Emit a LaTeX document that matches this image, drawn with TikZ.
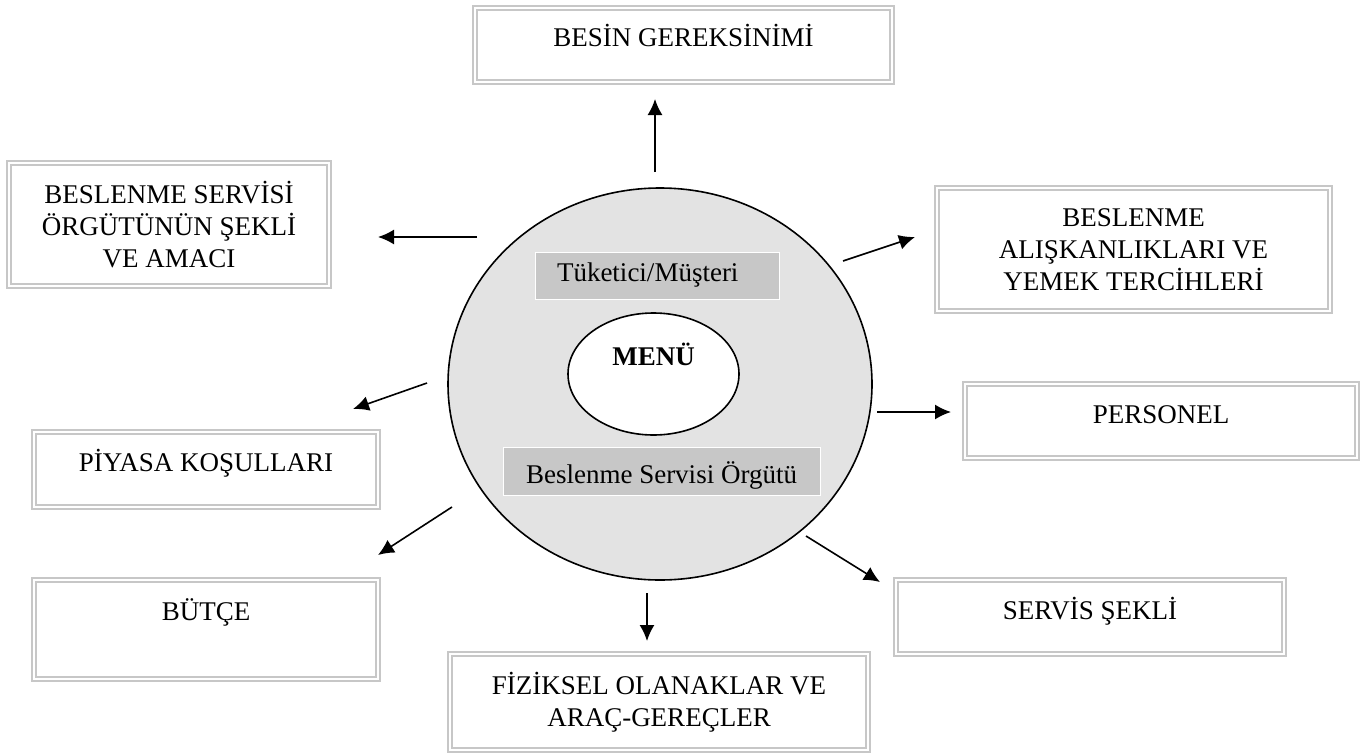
\documentclass[tikz,border=0pt]{standalone}
\usepackage{fontspec}
\setmainfont{Liberation Serif}
\usepackage{tikz}
\usetikzlibrary{shapes,arrows.meta}
\tikzset{rec/.style={rectangle,draw=black!22,double=white,double distance=1.1pt,line width=0.9pt,inner sep=0pt,align=center,font=\fontsize{13.5}{16}\selectfont}}
\tikzset{ell/.style={ellipse,draw,line width=0.8pt,inner sep=0pt}}
\tikzset{lab/.style={rectangle,draw=white,fill=black!22,line width=0.5pt,inner sep=0pt,font=\fontsize{13.5}{16}\selectfont}}

\begin{document}
\begin{tikzpicture}[x=0.5pt,y=-0.5pt,>={Latex[length=8pt,width=7.5pt]}]
    \useasboundingbox (0,0) rectangle (1365,755);
    \node[ell,fill=black!11,minimum width=212pt,minimum height=196pt] (c) at (660,384) {};
    \node[lab,minimum width=122pt,minimum height=23.5pt,text width=100pt,align=left] (k) at (657,275.5) {Tüketici/Müşteri};
    \node[ell,fill=white,minimum width=85.5pt,minimum height=61pt,text height=11pt,text depth=19.1pt,font=\bfseries\fontsize{13.5}{16}\selectfont] (m) at (653.5,374) {MENÜ};
    \node[lab,minimum width=158.5pt,minimum height=24pt,text height=15pt,text depth=2.1pt] (o) at (661.5,471) {Beslenme Servisi Örgütü};

    \node[rec,minimum width=208.5pt,minimum height=37pt,text height=10pt,text depth=8.1pt] (besin) at (683.5,45) {BESİN GEREKSİNİMİ};
    \node[rec,minimum width=160pt,minimum height=61.5pt] (org) at (169,224.5) {BESLENME SERVİSİ\\ÖRGÜTÜNÜN ŞEKLİ\\VE AMACI};
    \node[rec,minimum width=196.5pt,minimum height=61.5pt] (alis) at (1133.5,249.5) {BESLENME\\ALIŞKANLIKLARI VE\\YEMEK TERCİHLERİ};
    \node[rec,minimum width=196pt,minimum height=37pt,text height=10pt,text depth=7.1pt] (pers) at (1161,421) {PERSONEL};
    \node[rec,minimum width=172pt,minimum height=37.5pt,text height=10pt,text depth=7.6pt] (piy) at (206,469.5) {PİYASA KOŞULLARI};
    \node[rec,minimum width=172pt,minimum height=49.5pt,text height=10pt,text depth=18.6pt] (but) at (206,629.5) {BÜTÇE};
    \node[rec,minimum width=209pt,minimum height=48pt] (fiz) at (659,702) {FİZİKSEL OLANAKLAR VE\\ARAÇ-GEREÇLER};
    \node[rec,minimum width=194pt,minimum height=37pt,text height=10pt,text depth=7.1pt] (serv) at (1090,617) {SERVİS ŞEKLİ};

    \coordinate (s1) at (655,172); \coordinate (e1) at (655,99);
    \coordinate (s2) at (477,237); \coordinate (e2) at (378,237);
    \coordinate (s3) at (843,261); \coordinate (e3) at (915,237);
    \coordinate (s4) at (877,412); \coordinate (e4) at (951,412);
    \coordinate (s5) at (427,383); \coordinate (e5) at (353,409);
    \coordinate (s6) at (452,507); \coordinate (e6) at (378,555);
    \coordinate (s7) at (647,593); \coordinate (e7) at (647,641);
    \coordinate (s8) at (806,536); \coordinate (e8) at (880,582);

    \draw [->,thick] (s1) to (e1);
    \draw [->,thick] (s2) to (e2);
    \draw [->,thick] (s3) to (e3);
    \draw [->,thick] (s4) to (e4);
    \draw [->,thick] (s5) to (e5);
    \draw [->,thick] (s6) to (e6);
    \draw [->,thick] (s7) to (e7);
    \draw [->,thick] (s8) to (e8);
\end{tikzpicture}
\end{document}
